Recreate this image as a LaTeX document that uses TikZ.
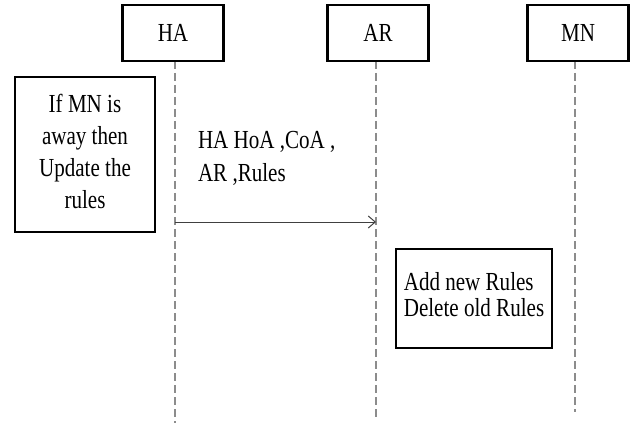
\documentclass[tikz,border=0pt]{standalone}
\usepackage{fontspec}
\setmainfont{Liberation Serif}
\usetikzlibrary{arrows.meta}
% condensed multi-line text block
\newcommand{\sqtext}[2]{\scalebox{0.81}[1]{\begin{tabular}{@{}#1@{}}#2\end{tabular}}}
\begin{document}
\begin{tikzpicture}[x=1pt,y=-1pt,
  every node/.style={inner sep=0pt,outer sep=0pt},
  actor/.style={draw=black,line width=2.8pt,fill=white,minimum width=101pt,minimum height=56pt,font=\fontsize{26}{32}\selectfont},
  notebox/.style={draw=black,line width=2.8pt,fill=white},
  lifeline/.style={draw=black!45,line width=1.3pt,dash pattern=on 8pt off 4pt},
  msg/.style={draw=black!75,line width=1pt,-{Straight Barb[length=7pt,width=12pt,line width=1pt]}},
  lbl/.style={font=\fontsize{26}{33}\selectfont}]
\useasboundingbox (0,0) rectangle (633,428);

% lifeline end points
\coordinate (haB) at (175,423);
\coordinate (arB) at (376,420);
\coordinate (mnB) at (575,412);

% lifelines
\draw[lifeline] (175,61) coordinate (haT) -- (haB);
\draw[lifeline] (376,61) coordinate (arT) -- (arB);
\draw[lifeline] (575,61) coordinate (mnT) -- (mnB);

% actor boxes
\node[actor] (ha) at (173,33) {\scalebox{0.81}[1]{HA}};
\node[actor] (ar) at (378,33) {\scalebox{0.81}[1]{AR}};
\node[actor] (mn) at (578,33) {\scalebox{0.81}[1]{MN}};

% condition note at HA
\node[notebox,minimum width=140pt,minimum height=155pt,
      font=\fontsize{26}{32}\selectfont] (cond) at (85,154.5)
  {\sqtext{c}{If MN is\\away then\\Update the\\rules}};

% message HA -> AR
\coordinate (m1s) at (175,222);
\coordinate (m1e) at (376,222);
\draw[msg] (m1s) -- (m1e);
\node[lbl,anchor=base west] (m1lbl) at (198,165)
  {\sqtext{l}{HA HoA ,CoA ,\\AR ,Rules}};

% action note at AR
\node[notebox,minimum width=156pt,minimum height=99pt,
      font=\fontsize{26}{25}\selectfont] (act) at (474,298.5)
  {\sqtext{l}{Add new Rules\\Delete old Rules}};
\end{tikzpicture}
\end{document}
